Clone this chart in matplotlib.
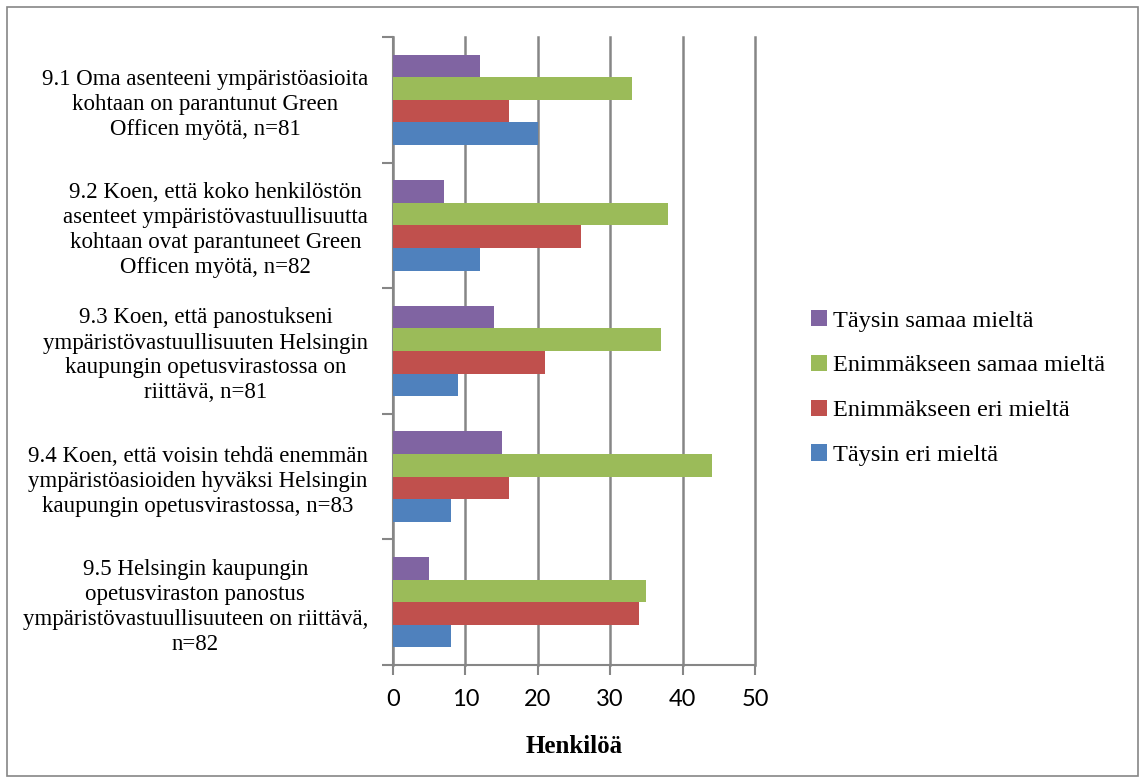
import numpy as np
import matplotlib.pyplot as plt
from matplotlib.patches import Rectangle

# ============================================================================
""" Survey data: number of respondents per answer """
questions = [
    "9.1 Oma asenteeni ympäristöasioita\nkohtaan on parantunut Green\nOfficen myötä, n=81",
    "9.2 Koen, että koko henkilöstön\nasenteet ympäristövastuullisuutta\nkohtaan ovat parantuneet Green\nOfficen myötä, n=82",
    "9.3 Koen, että panostukseni\nympäristövastuullisuuten Helsingin\nkaupungin opetusvirastossa on\nriittävä, n=81",
    "9.4 Koen, että voisin tehdä enemmän\nympäristöasioiden hyväksi Helsingin\nkaupungin opetusvirastossa, n=83",
    "9.5 Helsingin kaupungin\nopetusviraston panostus\nympäristövastuullisuuteen on riittävä,\nn=82",
]
series_names = ["Täysin samaa mieltä", "Enimmäkseen samaa mieltä",
                "Enimmäkseen eri mieltä", "Täysin eri mieltä"]
taysin_samaa = [12, 7, 14, 15, 5]
enim_samaa = [33, 38, 37, 44, 35]
enim_eri = [16, 26, 21, 16, 34]
taysin_eri = [20, 12, 9, 8, 8]
x_ticks = [0, 10, 20, 30, 40, 50]

colors = ["#8064A2", "#9BBB59", "#C0504D", "#4F81BD"]
grey = "#868686"
serif = ["Liberation Serif", "DejaVu Serif"]

# ============================================================================
fig = plt.figure(figsize=(11.44, 7.83), dpi=100)
fig.patches.append(Rectangle((7 / 1144, 7 / 783), 1131 / 1144, 769 / 783,
                             transform=fig.transFigure, fill=False,
                             edgecolor=grey, linewidth=1.2))

ax = fig.add_axes([393 / 1144, 118 / 783, 362 / 1144, 628 / 783])

y = np.arange(len(questions))
h = 0.18
all_values = [taysin_samaa, enim_samaa, enim_eri, taysin_eri]
offsets = [-1.5 * h, -0.5 * h, 0.5 * h, 1.5 * h]
for vals, off, col, name in zip(all_values, offsets, colors, series_names):
    ax.barh(y + off, vals, height=h, color=col, label=name, zorder=3)

ax.set_xlim(0, 50)
ax.set_ylim(len(questions) - 0.5, -0.5)
ax.set_xticks(x_ticks)
ax.set_xticklabels([str(v) for v in x_ticks], fontsize=17, family="Lato")
ax.tick_params(axis="x", direction="out", length=7, width=1.5, color=grey, pad=10)

ax.set_yticks(y)
ax.set_yticklabels(questions, fontsize=16.5, family=serif,
                   multialignment="center", linespacing=1.25)
ax.tick_params(axis="y", which="major", length=0, pad=18)
ax.set_yticks(np.arange(-0.5, len(questions)), minor=True)
ax.tick_params(axis="y", which="minor", length=8, width=1.5, color=grey)

ax.grid(axis="x", color=grey, linewidth=1.8, zorder=0)
for line in ax.get_xgridlines():
    line.set_clip_on(False)
for side in ["top", "right"]:
    ax.spines[side].set_visible(False)
for side in ["left", "bottom"]:
    ax.spines[side].set_color(grey)
    ax.spines[side].set_linewidth(1.5)

ax.set_xlabel("Henkilöä", fontsize=18, family=serif, fontweight="bold", labelpad=18)

handles, labels = ax.get_legend_handles_labels()
ax.legend(handles, labels, loc="center left", bbox_to_anchor=(789 / 1144, 395 / 783),
          bbox_transform=fig.transFigure, frameon=False,
          prop={"family": serif, "size": 17.5}, handlelength=0.65, handleheight=0.65,
          handletextpad=0.25, labelspacing=0.95)

fig.savefig("out.png", dpi=100)
